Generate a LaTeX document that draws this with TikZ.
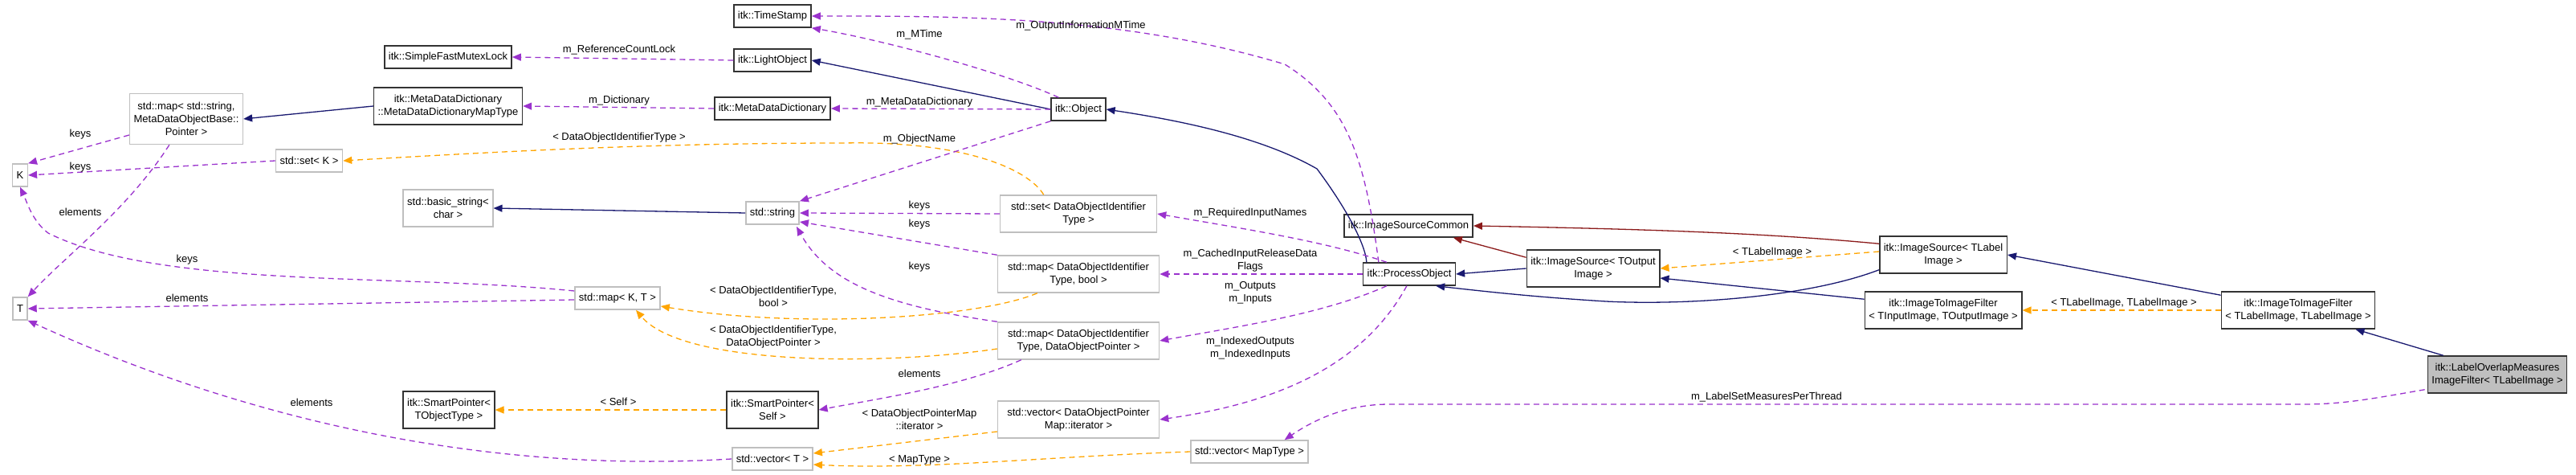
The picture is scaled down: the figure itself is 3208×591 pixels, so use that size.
\documentclass[tikz,border=0pt]{standalone}
\usepackage{fontspec}
\setmainfont{Liberation Sans}
\usetikzlibrary{arrows.meta,calc}
\definecolor{pc}{HTML}{9A32CD}
\definecolor{nv}{HTML}{191970}
\definecolor{og}{HTML}{FFA500}
\definecolor{dr}{HTML}{8B1A1A}
\begin{document}
\begin{tikzpicture}[x=1pt,y=-1pt,
  every node/.style={font=\fontsize{13}{16}\selectfont, inner sep=2pt},
  bb/.style={draw=black!80, line width=1.5pt, fill=white, align=center, minimum height=28, inner xsep=5pt},
  gb/.style={draw=black!25, line width=1.5pt, fill=white, align=center, minimum height=28, inner xsep=5pt},
  tl/.style={minimum height=46},
  ar/.style={-{Triangle[length=11pt,width=9pt]}, line width=1.3pt},
  pe/.style={ar, pc, dash pattern=on 7pt off 5pt},
  oe/.style={ar, og, dash pattern=on 7pt off 5pt},
  ne/.style={ar, nv},
  re/.style={ar, dr},
  lbl/.style={align=center, inner sep=1pt}]
\useasboundingbox (0,0) rectangle (3208,591);
% nodes
\node[bb] (sfm) at (558,71) {itk::SimpleFastMutexLock};
\node[gb,minimum height=63] (mss) at (232,148) {std::map< std::string,\\ MetaDataObjectBase::\\ Pointer >};
\node[bb,tl] (mdt) at (558,132) {itk::MetaDataDictionary\\ ::MetaDataDictionaryMapType};
\node[gb] (K) at (25,218) {K};
\node[gb] (setk) at (385,200) {std::set< K >};
\node[gb,tl] (bs) at (558,259) {std::basic\_string<\\ char >};
\node[gb] (mkt) at (769,371) {std::map< K, T >};
\node[gb] (T) at (25,384) {T};
\node[bb,tl] (spt) at (559,510) {itk::SmartPointer<\\ TObjectType >};
\node[bb] (ts) at (962,20) {itk::TimeStamp};
\node[bb] (lo) at (962,75) {itk::LightObject};
\node[bb] (mdd) at (962,135) {itk::MetaDataDictionary};
\node[bb] (obj) at (1343,136) {itk::Object};
\node[gb] (str) at (962,265) {std::string};
\node[gb,tl,minimum width=195] (sdo) at (1343,266) {std::set< DataObjectIdentifier\\ Type >};
\node[gb,tl,minimum width=201] (mdb) at (1343,341) {std::map< DataObjectIdentifier\\ Type, bool >};
\node[gb,tl,minimum width=201] (mdp) at (1343,424) {std::map< DataObjectIdentifier\\ Type, DataObjectPointer >};
\node[gb,tl,minimum width=201] (vdp) at (1343,522) {std::vector< DataObjectPointer\\ Map::iterator >};
\node[gb] (vmt) at (1556,562) {std::vector< MapType >};
\node[bb,tl] (sps) at (962,510) {itk::SmartPointer<\\ Self >};
\node[gb] (vt) at (962,571) {std::vector< T >};
\node[bb] (isc) at (1754,281) {itk::ImageSourceCommon};
\node[bb] (po) at (1755,341) {itk::ProcessObject};
\node[bb,tl] (iso) at (1984,334) {itk::ImageSource< TOutput\\ Image >};
\node[bb,tl] (isl) at (2420,317) {itk::ImageSource< TLabel\\ Image >};
\node[bb,tl] (iti) at (2420,386) {itk::ImageToImageFilter\\ < TInputImage, TOutputImage >};
\node[bb,tl] (itl) at (2862,386) {itk::ImageToImageFilter\\ < TLabelImage, TLabelImage >};
\node[bb,tl,fill=black!25] (lom) at (3110,466) {itk::LabelOverlapMeasures\\ ImageFilter< TLabelImage >};
% left cluster
\draw[pe] (lo.west) -- (sfm.east);
\node[lbl] at (771,62) {m\_ReferenceCountLock};
\draw[pe] (mdd.west) -- (mdt.east);
\node[lbl] at (771,125) {m\_Dictionary};
\draw[ne] (mdt.west) -- (mss.east);
\draw[pe] (mss.west |- 0,168) -- (K.north east);
\node[lbl] at (100,167) {keys};
\draw[pe] ($(mss.south west)+(50,0)$) .. controls (160,260) and (80,320) .. (T.north east);
\node[lbl] at (100,264) {elements};
\draw[pe] (setk.west) -- (K.east);
\node[lbl] at (100,208) {keys};
\draw[pe] (mkt.west |- 0,362) .. controls (500,340) and (200,360) .. (60,290) .. controls (40,275) and (33,250) .. (K.south);
\node[lbl] at (233,323) {keys};
\draw[pe] (mkt.west |- 0,373) -- (T.east);
\node[lbl] at (233,371) {elements};
\draw[pe] (vt.west) .. controls (600,590) and (300,520) .. (T.south east);
\node[lbl] at (388,501) {elements};
\draw[oe] ($(sdo.north west)+(55,0)$) .. controls (1280,210) and (1200,175) .. (1050,178) .. controls (800,178) and (600,190) .. (setk.east);
\node[lbl] at (771,171) {< DataObjectIdentifierType >};
\draw[ne] (str.west) -- (bs.east);
% object
\draw[ne] (obj.west) -- (lo.east);
\draw[pe] ($(obj.north west)+(10,0)$) .. controls (1250,90) and (1100,50) .. (ts.south east);
\node[lbl] at (1145,43) {m\_MTime};
\draw[pe] (obj.west) -- (mdd.east);
\node[lbl] at (1145,127) {m\_MetaDataDictionary};
\draw[pe] (obj.south west) -- (str.north east);
\node[lbl] at (1145,173) {m\_ObjectName};
\draw[pe] (sdo.west) -- (str.east);
\node[lbl] at (1145,256) {keys};
\draw[pe] (mdb.north west) -- (str.east |- 0,276);
\node[lbl] at (1145,279) {keys};
\draw[pe] (mdp.north west) .. controls (1100,380) and (1030,350) .. (992,282);
\node[lbl] at (1145,332) {keys};
\draw[oe] ($(mdb.south west)+(50,0)$) .. controls (1220,395) and (1000,410) .. (mkt.east |- 0,381);
\node[lbl] at (963,369) {< DataObjectIdentifierType,\\ bool >};
\draw[oe] (mdp.west |- 0,434) .. controls (1100,455) and (850,455) .. ($(mkt.south)+(23,0)$);
\node[lbl] at (963,419) {< DataObjectIdentifierType,\\ DataObjectPointer >};
\draw[pe] ($(mdp.south west)+(30,0)$) .. controls (1200,480) and (1100,495) .. (sps.east);
\node[lbl] at (1145,465) {elements};
\draw[oe] (sps.west) -- (spt.east);
\node[lbl] at (770,500) {< Self >};
\draw[oe] (vdp.west |- 0,537) -- (vt.east |- 0,564);
\node[lbl] at (1145,522) {< DataObjectPointerMap\\ ::iterator >};
\draw[oe] (vmt.west) .. controls (1300,568) and (1150,585) .. (vt.east |- 0,578);
\node[lbl] at (1145,572) {< MapType >};
% process object
\draw[ne] ($(po.north west)+(5,0)$) .. controls (1700,300) and (1670,250) .. (1640,210) .. controls (1570,170) and (1470,150) .. (obj.east);
\draw[pe] ($(po.north west)+(20,0)$) .. controls (1700,200) and (1680,130) .. (1600,80) .. controls (1400,20) and (1200,20) .. (ts.east);
\node[lbl] at (1346,32) {m\_OutputInformationMTime};
\draw[pe] ($(po.north west)+(30,0)$) .. controls (1650,300) and (1550,285) .. (sdo.east);
\node[lbl] at (1557,265) {m\_RequiredInputNames};
\draw[pe] (po.west) -- (mdb.east);
\node[lbl] at (1557,324) {m\_CachedInputReleaseData\\ Flags};
\draw[pe] ($(po.south west)+(30,0)$) .. controls (1650,390) and (1550,405) .. (mdp.east);
\node[lbl] at (1557,364) {m\_Outputs\\ m\_Inputs};
\draw[pe] ($(po.south west)+(55,0)$) .. controls (1700,450) and (1600,500) .. (vdp.east);
\node[lbl] at (1557,433) {m\_IndexedOutputs\\ m\_IndexedInputs};
\draw[ne] (iso.west) -- (po.east);
\draw[re] ($(iso.north west)+(0,10)$) -- ($(isc.south east)+(-25,0)$);
\draw[re] ($(isl.north west)+(0,10)$) .. controls (2200,290) and (2050,285) .. (isc.east);
\draw[oe] ($(isl.west)+(0,-4)$) -- (iso.east);
\node[lbl] at (2207,314) {< TLabelImage >};
\draw[ne] ($(isl.south west)+(0,-5)$) .. controls (2250,370) and (2100,380) .. (2000,375) .. controls (1920,370) and (1870,365) .. ($(po.south east)+(-25,0)$);
\draw[ne] ($(iti.north west)+(0,10)$) -- (iso.east |- 0,346);
\draw[ne] ($(itl.north west)+(0,5)$) -- (isl.east);
\draw[oe] (itl.west) -- (iti.east);
\node[lbl] at (2645,377) {< TLabelImage, TLabelImage >};
\draw[ne] ($(lom.north west)+(20,0)$) -- ($(itl.south east)+(-25,0)$);
\draw[pe] ($(lom.south west)+(-3,-5)$) .. controls (2960,495) and (2920,503) .. (2870,503) -- (1730,503) .. controls (1680,503) and (1640,520) .. ($(vmt.north east)+(-30,0)$);
\node[lbl] at (2200,494) {m\_LabelSetMeasuresPerThread};
\end{tikzpicture}
\end{document}
